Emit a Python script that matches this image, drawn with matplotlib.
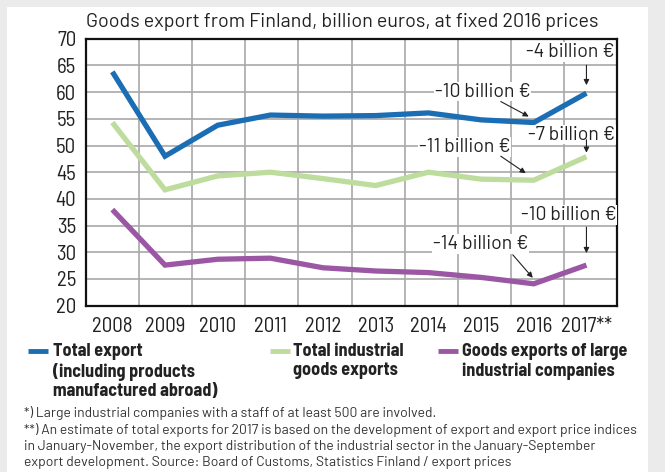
import matplotlib
matplotlib.use('Agg')
import matplotlib.pyplot as plt
from matplotlib.lines import Line2D
from matplotlib.patches import Rectangle
import numpy as np

# ---- data ----
years = ['2008', '2009', '2010', '2011', '2012', '2013', '2014', '2015', '2016', '2017**']
total_export = [63.8, 48.0, 53.8, 55.7, 55.5, 55.6, 56.1, 54.8, 54.3, 59.8]
industrial_exports = [54.3, 41.7, 44.3, 45.0, 43.8, 42.5, 45.0, 43.7, 43.5, 47.9]
large_companies = [38.0, 27.6, 28.7, 28.9, 27.1, 26.5, 26.2, 25.3, 24.1, 27.6]
series_labels = ['Total export\n(including products\nmanufactured abroad)',
                 'Total industrial\ngoods exports',
                 'Goods exports of large\nindustrial companies']
colors = ['#1b6db4', '#bddc9d', '#9b57a4']
notes_2016 = ['-10 billion €', '-11 billion €', '-14 billion €']
notes_2017 = ['-4 billion €', '-7 billion €', '-10 billion €']
title = 'Goods export from Finland, billion euros, at fixed 2016 prices'
footnotes = ['*) Large industrial companies with a staff of at least 500 are involved.',
             '**) An estimate of total exports for 2017 is based on the development of export and export price indices',
             'in January-November, the export distribution of the industrial sector in the January-September',
             'export development. Source: Board of Customs, Statistics Finland / export prices']

SEMI = ['Barlow Semi Condensed', 'DejaVu Sans']
REG = ['Barlow', 'DejaVu Sans']
plt.rcParams['font.family'] = SEMI

W, H = 665, 472
fig = plt.figure(figsize=(W / 100, H / 100), dpi=100)
fig.patch.set_facecolor('#ebebeb')
fig.add_artist(Rectangle((7 / W, 0), 641 / W, (H - 7) / H, transform=fig.transFigure,
                         facecolor='white', edgecolor='none', zorder=0))

left, right, top, bottom = 86, 617, 38.7, 305.7
ax = fig.add_axes([left / W, 1 - bottom / H, (right - left) / W, (bottom - top) / H])

x = np.arange(len(years))
xlim = (-0.5, 9.58)
ax.set_xlim(*xlim)
ax.set_ylim(20, 70)

series = [total_export, industrial_exports, large_companies]
for vals, c in zip(series, colors):
    ax.plot(x, vals, color=c, lw=3.8, solid_joinstyle='miter', solid_capstyle='butt', zorder=4)

# grid
ax.set_yticks(np.arange(20, 71, 5))
ax.set_xticks(x)
ax.set_xticklabels(years)
ax.set_xticks(np.linspace(xlim[0], xlim[1], 11)[1:-1], minor=True)
ax.grid(True, axis='y', which='major', color='#a8a8a8', lw=1.2, zorder=1)
ax.grid(True, axis='x', which='minor', color='#a8a8a8', lw=1.2, zorder=1)
ax.grid(False, axis='x', which='major')
ax.tick_params(axis='both', which='both', length=0, labelcolor='#222222')
ax.tick_params(axis='y', labelsize=15, pad=7)
ax.tick_params(axis='x', labelsize=15, pad=8)
for s in ax.spines.values():
    s.set_linewidth(1.6)
    s.set_color('#111111')
ax.set_axisbelow(True)

fig.text(left / W, 1 - 27 / H, title, fontsize=14.2, family=REG, ha='left', va='baseline',
         color='#222222')

# annotations (offsets in pixels relative to data points)
arrowprops = dict(arrowstyle='-|>', color='#222222', lw=0.8, mutation_scale=8,
                  shrinkA=0, shrinkB=0)
ann16 = [((-51, 31), (-33, 21), (-5, 6)),
         ((-69, 33), (-33, 24), (-8, 7)),
         ((-53, 40), (-21, 29), (-1, 6))]
ann17 = [((28, 41), (0, 28), (0, 8)),
         ((29, 22), (0, 17), (0, 4)),
         ((30, 50), (0, 38), (0, 12))]
for idx, notes, labs, ha in ((8, ann16, notes_2016, 'center'), (9, ann17, notes_2017, 'right')):
    for vals, lab, (toff, a0, a1) in zip(series, labs, notes):
        ax.annotate(lab, xy=(idx, vals[idx]), xytext=toff, textcoords='offset pixels',
                    ha=ha, va='center', fontsize=14, family=REG, color='#222222', zorder=5,
                    bbox=dict(fc='white', ec='none', pad=0.5))
        tr = ax.transData
        px, py = tr.transform((idx, vals[idx]))
        start = tr.inverted().transform((px + a0[0], py + a0[1]))
        tip = tr.inverted().transform((px + a1[0], py + a1[1]))
        ax.annotate('', xy=tip, xytext=start, zorder=6, arrowprops=arrowprops)

# legend
leg_pos = [(28, 53), (270, 293), (438, 462)]
for (hx, tx), lab, c in zip(leg_pos, series_labels, colors):
    fig.add_artist(Line2D([hx / W, (hx + 20) / W], [1 - 351 / H] * 2, color=c, lw=3.5,
                          transform=fig.transFigure, solid_capstyle='butt'))
    fig.text(tx / W, 1 - 343 / H, lab, fontsize=13, fontweight='bold', ha='left', va='top',
             linespacing=1.18, color='#222222')

for i, line in enumerate(footnotes):
    fig.text(24 / W, 1 - (413 + 16.6 * i) / H, line, fontsize=10.0, family=REG,
             ha='left', va='center', color='#333333')

fig.savefig('out.png', dpi=100)
